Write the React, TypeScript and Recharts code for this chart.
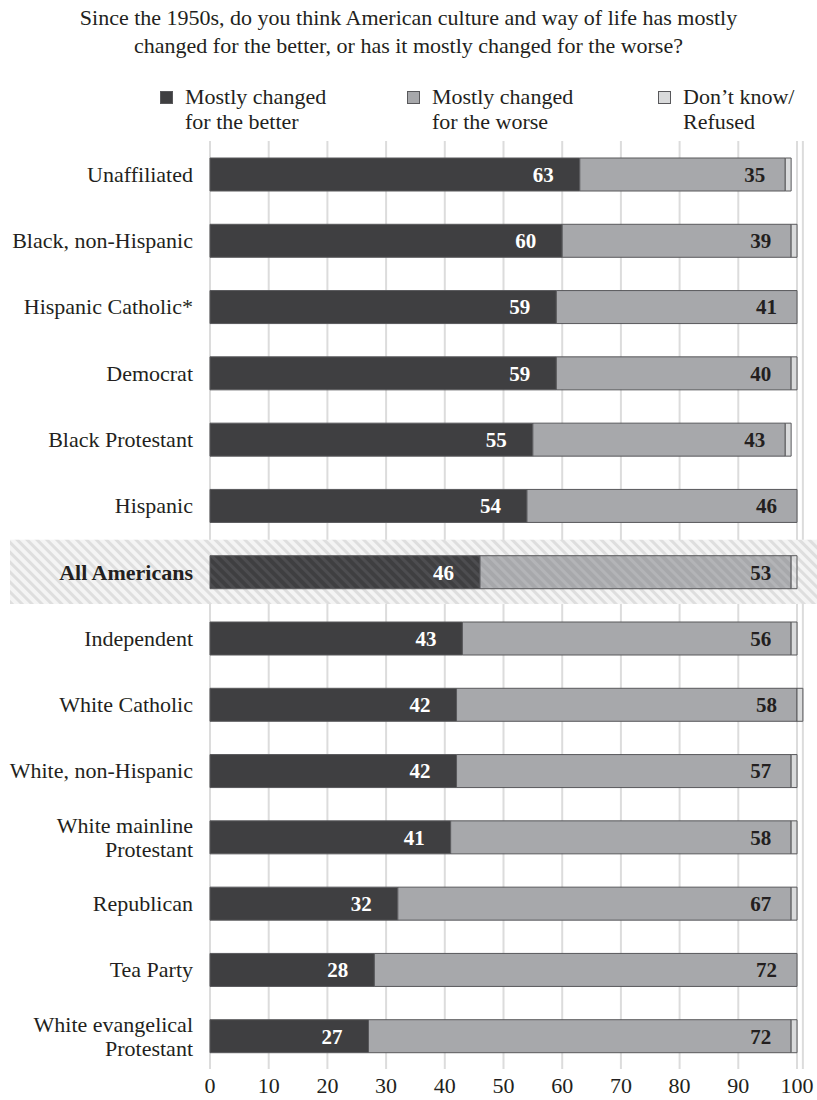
import React from 'react';
import { BarChart, Bar, XAxis, YAxis, CartesianGrid, LabelList, Cell, ReferenceArea, Legend } from 'recharts';

const categories = [
  'Unaffiliated',
  'Black, non-Hispanic',
  'Hispanic Catholic*',
  'Democrat',
  'Black Protestant',
  'Hispanic',
  'All Americans',
  'Independent',
  'White Catholic',
  'White, non-Hispanic',
  'White mainline\nProtestant',
  'Republican',
  'Tea Party',
  'White evangelical\nProtestant',
];
const better = [63, 60, 59, 59, 55, 54, 46, 43, 42, 42, 41, 32, 28, 27];
const worse = [35, 39, 41, 40, 43, 46, 53, 56, 58, 57, 58, 67, 72, 72];
const dontKnow = [1, 1, 0, 1, 1, 0, 1, 1, 1, 1, 1, 1, 0, 1];
const xTicks = [0, 10, 20, 30, 40, 50, 60, 70, 80, 90, 100];
const highlight = 'All Americans';
const titleLines = [
  'Since the 1950s, do you think American culture and way of life has mostly',
  'changed for the better, or has it mostly changed for the worse?',
];
const seriesNames = ['Mostly changed\nfor the better', 'Mostly changed\nfor the worse', 'Don\u2019t know/\nRefused'];

const data = categories.map((name, i) => ({
  name,
  better: better[i],
  worse: worse[i],
  dk: dontKnow[i],
}));

const FONT = '"Liberation Serif", "Times New Roman", serif';
const DARK = '#3f3f41';
const MID = '#a7a8ab';
const LIGHT = '#d9dadb';
const STROKE = '#58585b';
const TEXT = '#231f20';
const FS = 22;

const colors = [DARK, MID, LIGHT];
const hatchIds = ['hatchDark', 'hatchMid', 'hatchLight'];

const YTick = (props: any) => {
  const { x, y, payload } = props;
  const lines = String(payload.value).split('\n');
  const bold = payload.value === highlight;
  const lh = 24;
  const start = y - ((lines.length - 1) * lh) / 2;
  return (
    <text
      x={x - 9}
      y={start}
      textAnchor="end"
      fontFamily={FONT}
      fontSize={FS}
      fontWeight={bold ? 'bold' : 'normal'}
      fill={TEXT}
    >
      {lines.map((l, i) => (
        <tspan key={i} x={x - 9} y={start + i * lh} dy="0.35em">
          {l}
        </tspan>
      ))}
    </text>
  );
};

const XTick = (props: any) => {
  const { x, y, payload } = props;
  return (
    <text x={x} y={y + 16} textAnchor="middle" fontFamily={FONT} fontSize={FS} fill={TEXT}>
      {payload.value}
    </text>
  );
};

const betterLabel = (props: any) => {
  const { x, y, width, height, value } = props;
  return (
    <text
      x={x + width - 26}
      y={y + height / 2}
      dy="0.35em"
      textAnchor="end"
      fontFamily={FONT}
      fontSize={21}
      fontWeight="bold"
      fill="#ffffff"
    >
      {value}
    </text>
  );
};

const worseLabel = (props: any) => {
  const { x, y, width, height, value } = props;
  return (
    <text
      x={x + width - 20}
      y={y + height / 2}
      dy="0.35em"
      textAnchor="end"
      fontFamily={FONT}
      fontSize={21}
      fontWeight="bold"
      fill={TEXT}
    >
      {value}
    </text>
  );
};

const BandShape = (props: any) => {
  const { y, height } = props;
  return <rect x={10} y={y + 1} width={807} height={height - 2} fill="url(#hatchBand)" />;
};

const legendPos = [160, 407, 658];

const LegendContent = () => (
  <div style={{ position: 'relative', width: 817, height: 56, fontFamily: FONT, fontSize: FS, color: TEXT }}>
    {seriesNames.map((n, i) => (
      <div key={i} style={{ position: 'absolute', left: legendPos[i], top: 0 }}>
        <div
          style={{
            position: 'absolute',
            left: 0,
            top: 7,
            width: 11,
            height: 11,
            background: colors[i],
            border: `1px solid ${STROKE}`,
          }}
        />
        <div style={{ position: 'absolute', left: 25, top: 0, lineHeight: '25px', whiteSpace: 'pre' }}>{n}</div>
      </div>
    ))}
  </div>
);

export default function App() {
  return (
    <div style={{ position: 'absolute', left: 0, top: 0, width: 817, height: 1100, background: '#fff' }}>
      <svg width={0} height={0} style={{ position: 'absolute' }}>
        <defs>
          <pattern id="hatchBand" width={7} height={7} patternUnits="userSpaceOnUse" patternTransform="rotate(-45)">
            <rect width={7} height={7} fill="#f4f4f4" />
            <rect width={3} height={7} fill="#dedede" />
          </pattern>
          <pattern id="hatchDark" width={7} height={7} patternUnits="userSpaceOnUse" patternTransform="rotate(-45)">
            <rect width={7} height={7} fill={DARK} />
            <rect width={3} height={7} fill="#4d4d50" />
          </pattern>
          <pattern id="hatchMid" width={7} height={7} patternUnits="userSpaceOnUse" patternTransform="rotate(-45)">
            <rect width={7} height={7} fill={MID} />
            <rect width={3} height={7} fill="#b3b4b7" />
          </pattern>
          <pattern id="hatchLight" width={7} height={7} patternUnits="userSpaceOnUse" patternTransform="rotate(-45)">
            <rect width={7} height={7} fill={LIGHT} />
            <rect width={3} height={7} fill="#e6e6e7" />
          </pattern>
        </defs>
      </svg>
      <div
        style={{
          position: 'absolute',
          left: 0,
          top: 4,
          width: 817,
          textAlign: 'center',
          fontFamily: FONT,
          fontSize: FS,
          lineHeight: '28px',
          color: TEXT,
          zIndex: 2,
        }}
      >
        {titleLines.map((t, i) => (
          <div key={i}>{t}</div>
        ))}
      </div>
      <BarChart
        width={817}
        height={1100}
        data={data}
        layout="vertical"
        margin={{ top: 85, right: 14.13, bottom: 1, left: 0 }}
        barSize={33}
      >
        <ReferenceArea y1={highlight} y2={highlight} shape={<BandShape />} ifOverflow="visible" />
        <CartesianGrid horizontal={false} vertical={true} stroke="#dcdcdc" strokeWidth={2} />
        <XAxis
          type="number"
          domain={[0, 101]}
          ticks={xTicks}
          axisLine={false}
          tickLine={false}
          tick={<XTick />}
          height={30}
          interval={0}
        />
        <YAxis
          type="category"
          dataKey="name"
          width={210}
          axisLine={false}
          tickLine={false}
          tick={<YTick />}
          interval={0}
        />
        <Legend
          verticalAlign="top"
          content={<LegendContent />}
          wrapperStyle={{ top: 84, left: 0, width: 817, height: 56 }}
        />
        <Bar dataKey="better" stackId="s" fill={DARK} stroke={STROKE} strokeWidth={1} isAnimationActive={false}>
          {data.map((d, i) => (
            <Cell key={i} fill={d.name === highlight ? `url(#${hatchIds[0]})` : DARK} />
          ))}
          <LabelList dataKey="better" content={betterLabel} />
        </Bar>
        <Bar dataKey="worse" stackId="s" fill={MID} stroke={STROKE} strokeWidth={1} isAnimationActive={false}>
          {data.map((d, i) => (
            <Cell key={i} fill={d.name === highlight ? `url(#${hatchIds[1]})` : MID} />
          ))}
          <LabelList dataKey="worse" content={worseLabel} />
        </Bar>
        <Bar dataKey="dk" stackId="s" fill={LIGHT} stroke={STROKE} strokeWidth={1} isAnimationActive={false}>
          {data.map((d, i) => (
            <Cell key={i} fill={d.name === highlight ? `url(#${hatchIds[2]})` : LIGHT} />
          ))}
        </Bar>
      </BarChart>
    </div>
  );
}
